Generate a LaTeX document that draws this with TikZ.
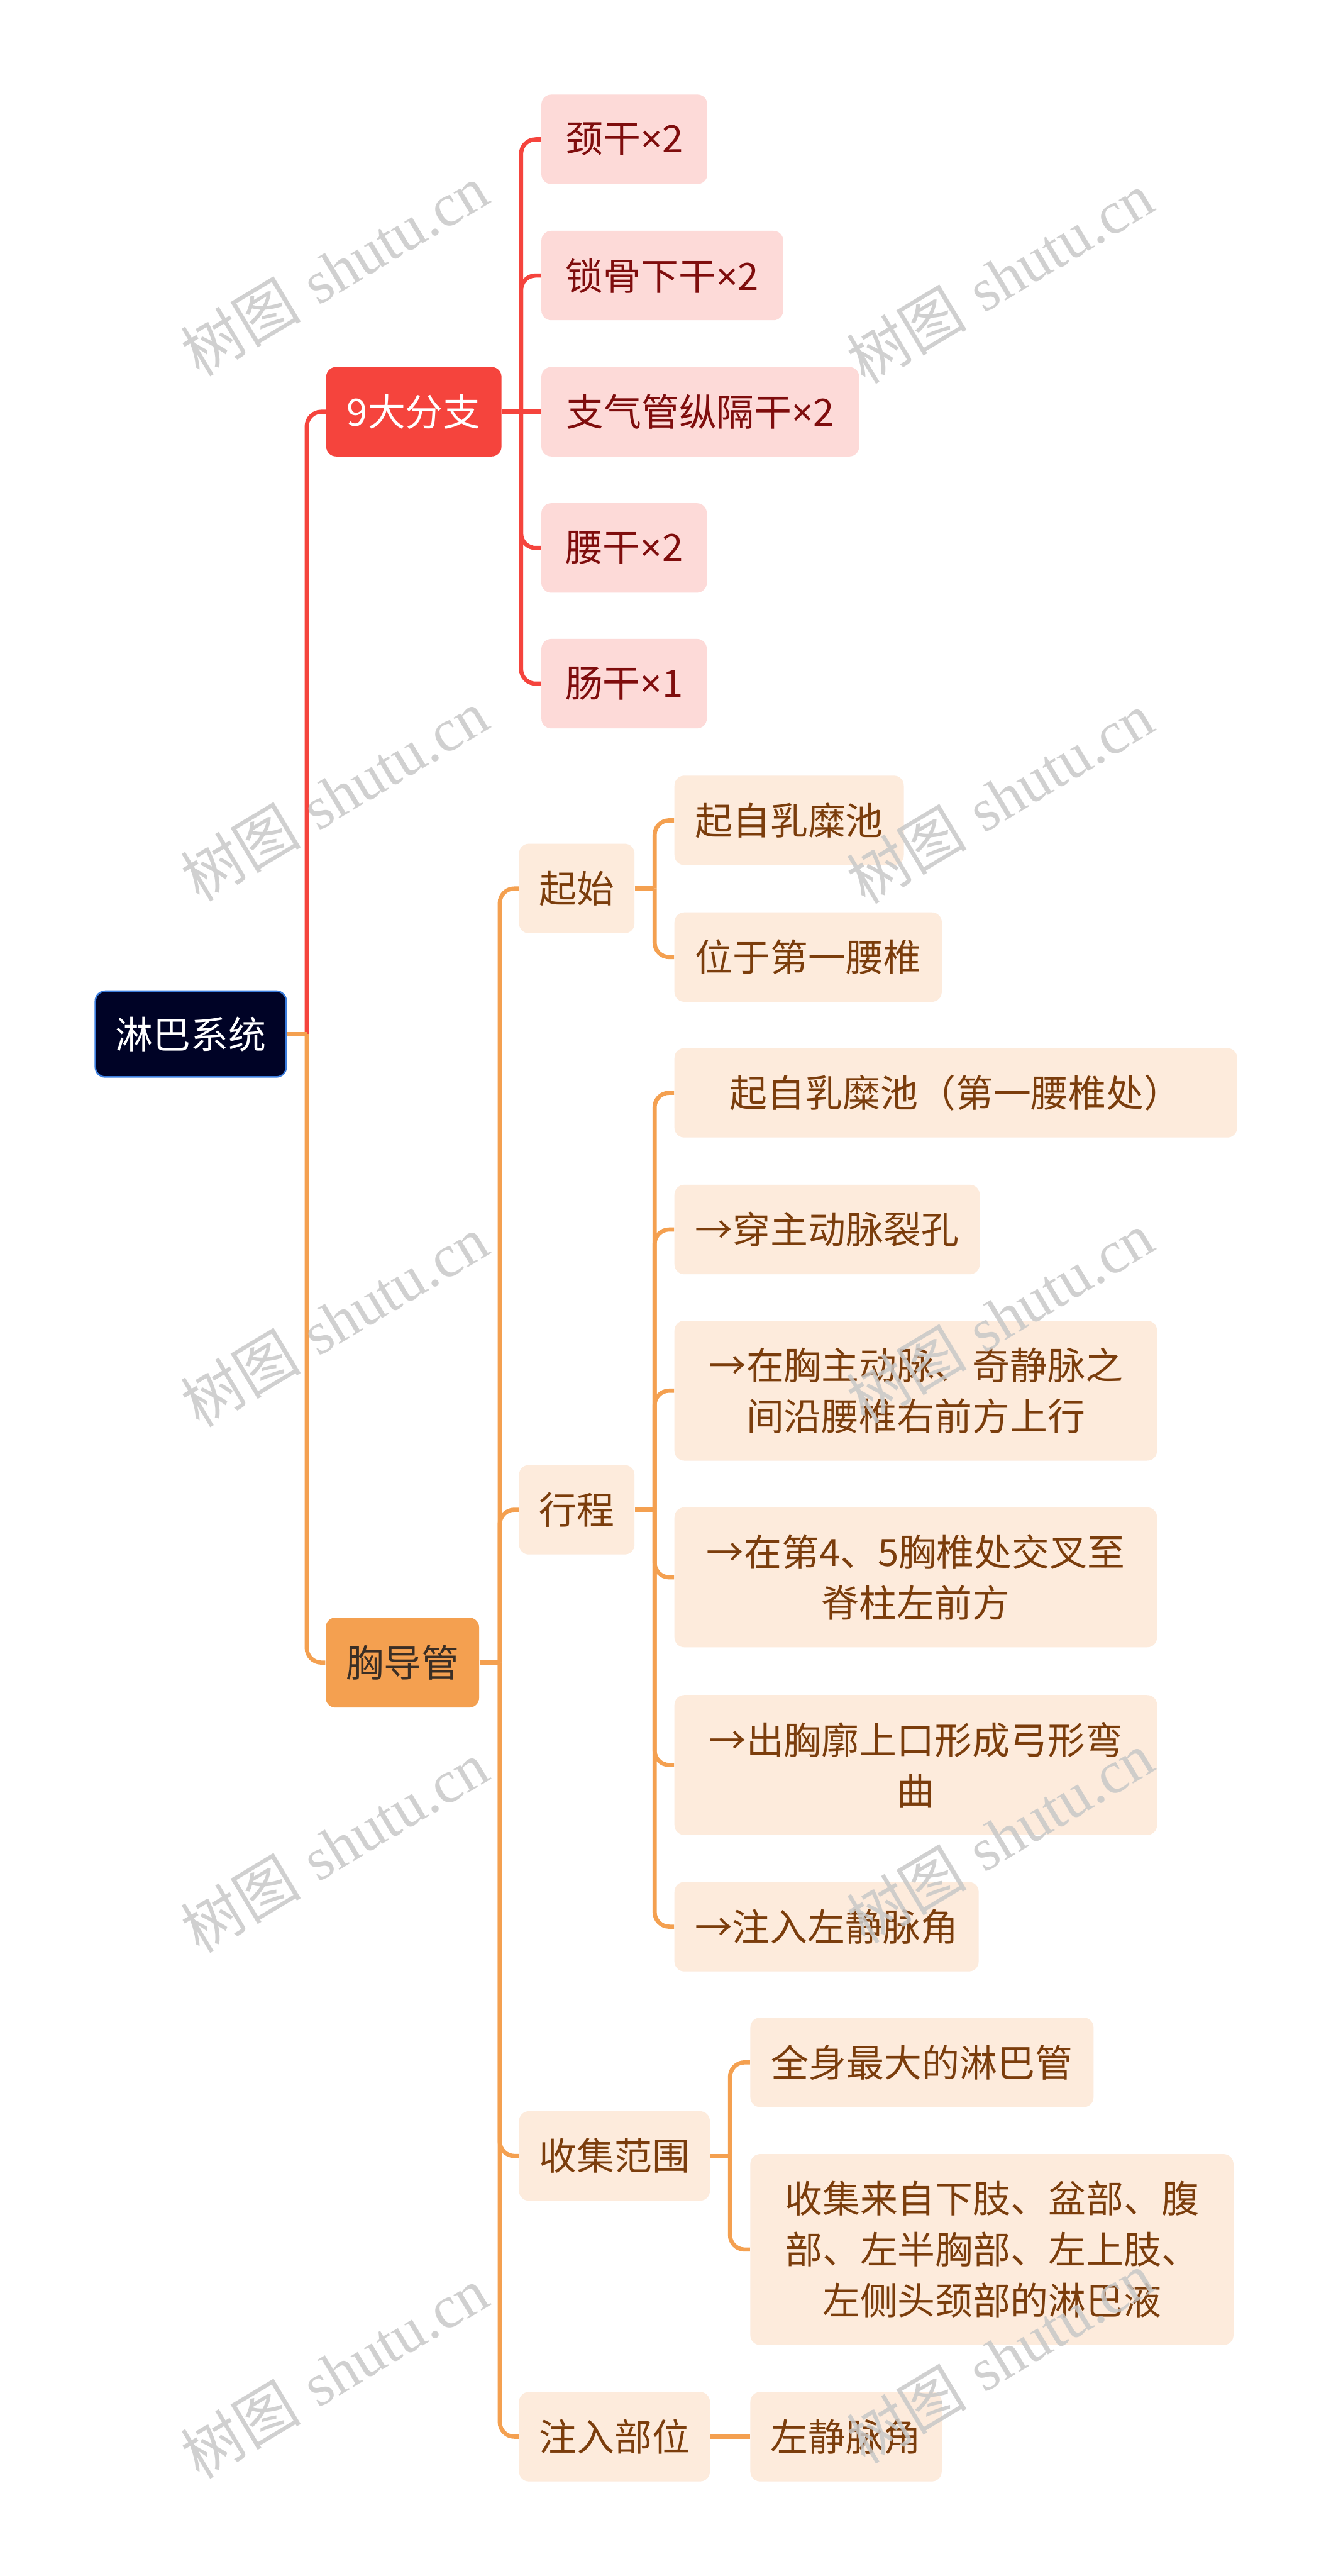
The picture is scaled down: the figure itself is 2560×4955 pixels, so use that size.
\documentclass[tikz,border=0pt]{standalone}
\usepackage{fontspec}
\newfontfamily\cjk{Noto Sans CJK SC}
\newfontfamily\latinsans{Noto Sans}
\newfontfamily\wmserif{Liberation Serif}
\newcommand{\mytimes}{{\latinsans ×}}
\definecolor{cRoot}{HTML}{000326}
\definecolor{cRootBorder}{HTML}{3B7DDD}
\definecolor{cRed}{HTML}{F5443D}
\definecolor{cRedLeaf}{HTML}{FDDAD8}
\definecolor{cRedText}{HTML}{7F0D0D}
\definecolor{cOrange}{HTML}{F4A050}
\definecolor{cOrLeaf}{HTML}{FDEBDC}
\definecolor{cOrText}{HTML}{7B3D0C}
\definecolor{cDarkText}{HTML}{3A2E25}
\definecolor{cWm}{HTML}{C8C8C8}
\tikzset{
  box/.style={rectangle, rounded corners=0.19cm, inner sep=0pt, anchor=west, align=center,
    font=\cjk\fontsize{20.6pt}{27.9pt}\selectfont, minimum height=1.72cm},
  rootbox/.style={box, fill=cRoot, draw=cRootBorder, line width=0.03cm, text=white},
  redhead/.style={box, fill=cRed, text=white},
  orhead/.style={box, fill=cOrange, text=cDarkText},
  redleaf/.style={box, fill=cRedLeaf, text=cRedText},
  orleaf/.style={box, fill=cOrLeaf, text=cOrText},
  rline/.style={draw=cRed, line width=0.08cm},
  oline/.style={draw=cOrange, line width=0.08cm},
  elbow/.style={rounded corners=0.28cm},
  wm/.style={rotate=31, text=cWm, opacity=0.85, inner sep=0pt,
    font=\fontsize{33pt}{36pt}\selectfont}
}
\begin{document}
\begin{tikzpicture}[x=0.01cm, y=-0.01cm]
\path[use as bounding box, fill=white] (0,0) rectangle (2560,4955);

% level 0 and 1
\node[rootbox, minimum width=3.67cm, minimum height=1.65cm] (root) at (182,1989) {淋巴系统};
\node[redhead, minimum width=3.37cm] (b1) at (627,792) {9大分支};
\node[orhead, minimum width=2.95cm, minimum height=1.73cm] (b2) at (626,3198) {胸导管};

% red leaves
\node[redleaf, minimum width=3.19cm] (r1) at (1041,268) {颈干\mytimes 2};
\node[redleaf, minimum width=4.65cm] (r2) at (1041,530) {锁骨下干\mytimes 2};
\node[redleaf, minimum width=6.11cm] (r3) at (1041,792) {支气管纵隔干\mytimes 2};
\node[redleaf, minimum width=3.18cm] (r4) at (1041,1054) {腰干\mytimes 2};
\node[redleaf, minimum width=3.18cm] (r5) at (1041,1315) {肠干\mytimes 1};

% orange level 2
\node[orleaf, minimum width=2.22cm] (c1) at (998,1709) {起始};
\node[orleaf, minimum width=2.22cm] (c2) at (998,2904) {行程};
\node[orleaf, minimum width=3.67cm] (c3) at (998,4147) {收集范围};
\node[orleaf, minimum width=3.67cm] (c4) at (998,4687) {注入部位};

% orange level 3
\node[orleaf, minimum width=4.41cm] (d1) at (1297,1578) {起自乳糜池};
\node[orleaf, minimum width=5.14cm] (d2) at (1297,1841) {位于第一腰椎};
\node[orleaf, minimum width=10.82cm] (e1) at (1297,2102) {起自乳糜池（第一腰椎处）};
\node[orleaf, minimum width=5.87cm] (e2) at (1297,2365) {→穿主动脉裂孔};
\node[orleaf, minimum width=9.28cm, minimum height=2.69cm] (e3) at (1297,2675) {→在胸主动脉、奇静脉之\\间沿腰椎右前方上行};
\node[orleaf, minimum width=9.28cm, minimum height=2.69cm] (e4) at (1297,3034) {→在第4、5胸椎处交叉至\\脊柱左前方};
\node[orleaf, minimum width=9.28cm, minimum height=2.69cm] (e5) at (1297,3395) {→出胸廓上口形成弓形弯\\曲};
\node[orleaf, minimum width=5.85cm] (e6) at (1297,3706) {→注入左静脉角};
\node[orleaf, minimum width=6.60cm] (f1) at (1443,3967) {全身最大的淋巴管};
\node[orleaf, minimum width=9.29cm, minimum height=3.67cm] (f2) at (1443,4327) {收集来自下肢、盆部、腹\\部、左半胸部、左上肢、\\左侧头颈部的淋巴液};
\node[orleaf, minimum width=3.68cm] (g1) at (1443,4687) {左静脉角};

% connectors: root
\coordinate (rbus) at ([xshift=0.38cm]root.east);
\draw[rline, elbow] (rbus) |- (b1.west);
\draw[oline] (root.east) -- (rbus);
\draw[oline, elbow] (rbus) |- (b2.west);

% 9大分支
\draw[rline] (b1.east) -- ++(0.37cm,0) coordinate (b1bus);
\foreach \c in {r1,r2,r4,r5} \draw[rline, elbow] (b1bus) |- (\c.west);
\draw[rline] (b1bus) -- (r3.west);

% 胸导管
\draw[oline] (b2.east) -- ++(0.39cm,0) coordinate (b2bus);
\foreach \c in {c1,c2,c3,c4} \draw[oline, elbow] (b2bus) |- (\c.west);

% 起始
\draw[oline] (c1.east) -- ++(0.38cm,0) coordinate (c1bus);
\foreach \c in {d1,d2} \draw[oline, elbow] (c1bus) |- (\c.west);

% 行程
\draw[oline] (c2.east) -- ++(0.38cm,0) coordinate (c2bus);
\foreach \c in {e1,e2,e3,e4,e5,e6} \draw[oline, elbow] (c2bus) |- (\c.west);

% 收集范围
\draw[oline] (c3.east) -- ++(0.38cm,0) coordinate (c3bus);
\foreach \c in {f1,f2} \draw[oline, elbow] (c3bus) |- (\c.west);

% 注入部位
\draw[oline] (c4.east) -- (g1.west);

% watermarks
\foreach \i/\xx/\yy in {1/643/519, 2/643/1530, 3/643/2541, 4/643/3552, 5/643/4563,
                       6/1924/534, 7/1924/1534, 8/1924/2534, 9/1924/3534, 10/1924/4534}
  \node[wm] (wm\i) at (\xx,\yy) {{\cjk 树图} {\wmserif shutu.cn}};
\end{tikzpicture}
\end{document}
